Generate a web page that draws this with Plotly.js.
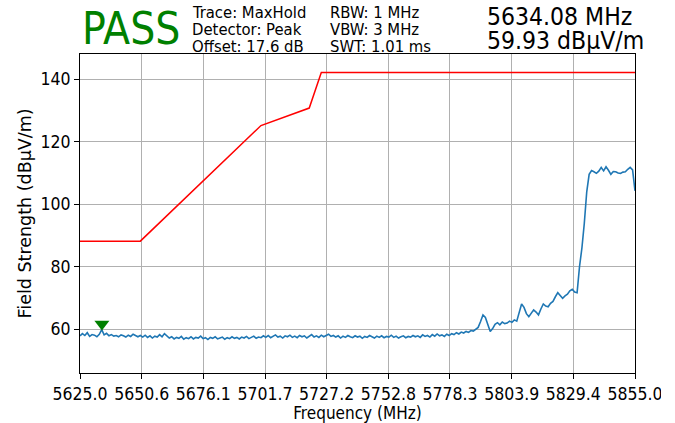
<!DOCTYPE html>
<html>
<head>
<meta charset="utf-8">
<script src="https://cdn.plot.ly/plotly-3.0.1.min.js"></script>
<style>html,body{margin:0;padding:0;background:#fff;}#chart{width:675px;height:423px;}</style>
</head>
<body>
<div id="chart"></div>
<script>
// Sweep grid (1 MHz steps from 5625 to 5855 MHz)
var sweepStartMHz = 5625;
var sweepStepMHz = 1;

var traceLevels = [
  57.9, 58.6, 58.0, 58.9, 57.7, 58.3, 58.1, 57.6, 58.4, 59.9,
  58.2, 58.7, 57.9, 58.3, 57.8, 58.0, 57.6, 58.2, 57.9, 57.5,
  58.1, 57.7, 58.4, 57.9, 57.6, 58.0,
  57.5, 58.1, 57.4, 57.9, 57.2, 57.8, 57.5, 58.3, 57.6, 58.6,
  57.9, 57.2, 57.6, 56.9, 57.4, 57.1, 57.7, 56.8, 57.3, 57.0,
  57.6, 56.9, 57.4, 57.2, 57.8, 57.0, 57.3, 56.7, 57.4, 57.1,
  57.6, 56.9, 57.2, 57.5, 56.8, 57.3, 57.0, 57.6, 57.1, 57.4,
  56.9, 57.5, 57.2, 57.7, 57.0, 57.4, 57.8, 57.1, 57.5, 57.3,
  57.9, 57.4, 58.0, 57.3, 57.7, 58.2, 57.5, 57.8, 57.2, 57.9,
  57.6, 58.1, 57.4, 57.8, 57.3, 58.0, 57.6, 57.9, 57.2, 57.7,
  58.3, 57.5, 57.9, 57.4, 58.1, 57.6, 57.9, 58.4, 57.7, 58.0,
  57.5, 57.9, 57.2, 57.8, 57.4, 58.0, 57.6, 57.3, 57.9, 57.5,
  57.8, 57.1, 57.7, 57.4, 58.0, 57.5, 57.2, 57.8, 57.4, 57.9,
  57.3, 57.7, 57.5, 58.1, 57.4, 57.8, 57.2, 57.6, 57.9, 57.3,
  57.7, 57.5, 58.0, 57.6, 57.9, 57.4, 58.2, 57.7, 58.0, 57.5,
  58.3, 57.8, 58.5, 57.9, 58.2, 57.7, 58.4, 58.0,
  58.6, 58.3, 58.9, 58.5, 59.1, 58.8, 59.3, 59.0, 59.6, 59.4,
  60.0, 60.6, 62.5, 64.6, 63.8, 61.5, 59.3, 60.2, 61.6, 62.1,
  61.4, 62.3, 61.8, 62.0, 62.6, 62.2, 63.0, 62.6, 65.5, 68.1,
  67.0, 65.0, 64.0, 65.3, 66.2, 65.5, 64.6, 66.5, 68.1, 67.4,
  67.2, 68.3, 68.9, 70.4, 71.7, 70.8, 69.9, 70.7, 71.2, 72.3,
  72.8, 71.9, 71.7, 80.0, 86.0, 94.0, 104.0, 109.6, 110.8, 110.4,
  109.9, 110.6, 111.8, 110.7, 112.0, 110.9, 109.6, 110.5, 110.4, 110.0,
  109.9, 110.3, 110.4, 111.2, 111.8, 111.0, 104.3
];

// Limit line (dBµV/m)
var limitFreqs = [5625, 5650, 5700, 5720, 5725, 5855];
var limitLevels = [88.2, 88.2, 125.2, 130.8, 142.2, 142.2];

// Peak marker
var markerFreq = 5634.08;
var markerShownLevel = 61.7;

// Axis ticks
var xTickLabels = ['5625.0','5650.6','5676.1','5701.7','5727.2','5752.8','5778.3','5803.9','5829.4','5855.0'];
var yTickValues = [60, 80, 100, 120, 140];

// Header text
var verdictText = 'PASS';
var infoCol1 = ['Trace: MaxHold', 'Detector: Peak', 'Offset: 17.6 dB'];
var infoCol2 = ['RBW: 1 MHz', 'VBW: 3 MHz', 'SWT: 1.01 ms'];
var markerReadout = ['5634.08 MHz', '59.93 dBµV/m'];

var traceFreqs = traceLevels.map(function (v, i) { return sweepStartMHz + i * sweepStepMHz; });

var W = 675, H = 423, ML = 80, MR = 40, MT = 54, MB = 50;
var PW = W - ML - MR, PH = H - MT - MB;
function px(x) { return (x - ML) / PW; }
function py(y) { return (H - MB - y) / PH; }

var FONT = 'DejaVu Sans Condensed, DejaVu Sans, sans-serif';
var FONT_V = 'DejaVu Sans, sans-serif';

var data = [
  { x: traceFreqs, y: traceLevels, type: 'scatter', mode: 'lines',
    line: { color: '#1f77b4', width: 1.6 }, hoverinfo: 'skip', showlegend: false },
  { x: limitFreqs, y: limitLevels, type: 'scatter', mode: 'lines',
    line: { color: '#ff0000', width: 1.5 }, hoverinfo: 'skip', showlegend: false },
  { x: [markerFreq], y: [markerShownLevel], type: 'scatter', mode: 'markers',
    marker: { symbol: 'triangle-down', size: 13, color: '#008000' }, hoverinfo: 'skip', showlegend: false }
];

var annotations = [];
annotations.push({ xref: 'paper', yref: 'paper', x: px(80), y: py(28), xanchor: 'left', yanchor: 'middle',
  text: verdictText, showarrow: false, font: { family: FONT, size: 44, color: '#008000' } });
var lineY = [12.5, 29.5, 46.5];
for (var i = 0; i < 3; i++) {
  annotations.push({ xref: 'paper', yref: 'paper', x: px(190), y: py(lineY[i]), xanchor: 'left', yanchor: 'middle',
    text: infoCol1[i], showarrow: false, font: { family: FONT, size: 16.5, color: '#000' } });
  annotations.push({ xref: 'paper', yref: 'paper', x: px(328), y: py(lineY[i]), xanchor: 'left', yanchor: 'middle',
    text: infoCol2[i], showarrow: false, font: { family: FONT, size: 16.5, color: '#000' } });
}
annotations.push({ xref: 'paper', yref: 'paper', x: px(485), y: py(16.5), xanchor: 'left', yanchor: 'middle',
  text: markerReadout[0], showarrow: false, font: { family: FONT, size: 24.5, color: '#000' } });
annotations.push({ xref: 'paper', yref: 'paper', x: px(485), y: py(40.5), xanchor: 'left', yanchor: 'middle',
  text: markerReadout[1], showarrow: false, font: { family: FONT, size: 24.5, color: '#000' } });

var axisCommon = {
  showgrid: true, gridcolor: '#b0b0b0', gridwidth: 1,
  showline: true, linecolor: '#000', linewidth: 1, mirror: true,
  ticks: 'outside', ticklen: 5, tickcolor: '#000', tickwidth: 1,
  zeroline: false, tickfont: { family: FONT, size: 17.5, color: '#000' }
};

var layout = {
  width: W, height: H,
  margin: { l: ML, r: MR, t: MT, b: MB },
  paper_bgcolor: '#fff', plot_bgcolor: '#fff',
  showlegend: false,
  xaxis: Object.assign({}, axisCommon, {
    range: [sweepStartMHz, 5855], tickmode: 'array',
    tickvals: xTickLabels.map(parseFloat), ticktext: xTickLabels,
    title: { text: 'Frequency (MHz)', font: { family: FONT, size: 17, color: '#000' }, standoff: 3 }
  }),
  yaxis: Object.assign({}, axisCommon, {
    range: [46, 148.1], tickmode: 'array', tickvals: yTickValues,
    title: { text: 'Field Strength (dBµV/m)', font: { family: FONT_V, size: 17.5, color: '#000' }, standoff: 4 }
  }),
  annotations: annotations,
  shapes: [
    { type: 'rect', xref: 'paper', yref: 'paper', x0: px(661), x1: px(680), y0: py(405), y1: py(380),
      fillcolor: '#fff', line: { width: 0 }, layer: 'above' }
  ]
};

Plotly.newPlot('chart', data, layout, { staticPlot: true, displayModeBar: false });
</script>
</body>
</html>
